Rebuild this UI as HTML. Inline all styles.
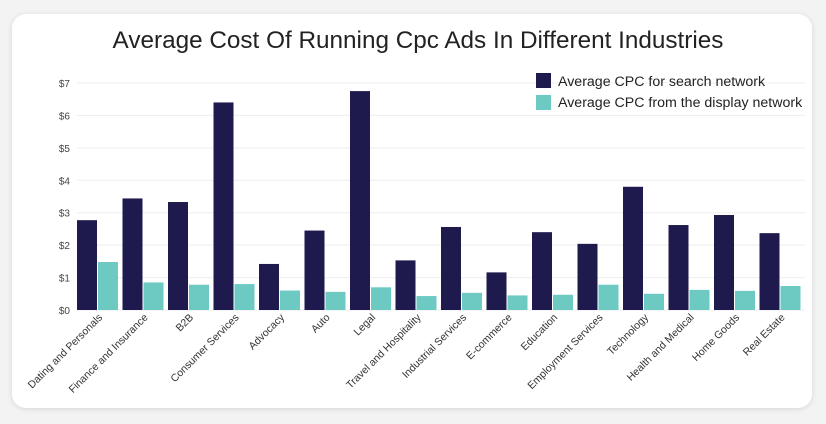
<!DOCTYPE html>
<html><head><meta charset="utf-8"><style>
body{margin:0;background:#f3f3f3;width:826px;height:424px;overflow:hidden;font-family:"Liberation Sans",sans-serif}
#card{position:absolute;left:12px;top:14px;width:800px;height:394px;background:#fff;border-radius:14px;box-shadow:0 1px 6px rgba(0,0,0,.12)}
</style></head><body>
<div id="card"></div>
<svg id="chart" width="826" height="424" style="position:absolute;left:0;top:0">
<text x="418" y="48" text-anchor="middle" font-size="24.3" fill="#222">Average Cost Of Running Cpc Ads In Different Industries</text>
<g id="grid"></g><g id="bars"></g><g id="labels"></g>
<g>
<rect x="536" y="73" width="15" height="15" fill="#1f1a4d"/>
<text x="558" y="86" font-size="14.2" fill="#222">Average CPC for search network</text>
<rect x="536" y="95" width="15" height="15" fill="#6ccac3"/>
<text x="558" y="107" font-size="14.2" fill="#222">Average CPC from the display network</text>
</g>
</svg>
<script>
const categories=["Dating and Personals","Finance and Insurance","B2B","Consumer Services","Advocacy","Auto","Legal","Travel and Hospitality","Industrial Services","E-commerce","Education","Employment Services","Technology","Health and Medical","Home Goods","Real Estate"];
const searchCPC=[2.77,3.44,3.33,6.4,1.42,2.45,6.75,1.53,2.56,1.16,2.4,2.04,3.8,2.62,2.93,2.37];
const displayCPC=[1.48,0.85,0.78,0.8,0.6,0.56,0.7,0.43,0.53,0.45,0.47,0.78,0.5,0.62,0.59,0.74];
const yTicks=[0,1,2,3,4,5,6,7];
const NS="http://www.w3.org/2000/svg";
const x0=77,x1=805,yBase=310,yTop=83,yMax=7;
const y=v=>yBase-(v/yMax)*(yBase-yTop);
const gw=(x1-x0)/categories.length;
const bw=20;
function mk(t,a,p){const e=document.createElementNS(NS,t);for(const k in a)e.setAttribute(k,a[k]);p.appendChild(e);return e;}
const grid=document.getElementById('grid'),bars=document.getElementById('bars'),labels=document.getElementById('labels');
yTicks.forEach(t=>{
 const l=mk('line',{x1:x0,x2:x1,y1:y(t),y2:y(t),stroke:'#eeeeee','stroke-width':1},grid);
 
 
 const tx=mk('text',{x:70,y:y(t)+4,'text-anchor':'end','font-size':10,fill:'#444'},grid);
 tx.textContent='$'+t;
 
 
});
categories.forEach((c,i)=>{
 const gx=x0+i*gw;
 const b1=mk('rect',{x:gx,y:y(searchCPC[i]),width:bw,height:yBase-y(searchCPC[i]),fill:'#1f1a4d'},bars);
 
 
 const b2=mk('rect',{x:gx+bw+1,y:y(displayCPC[i]),width:bw,height:yBase-y(displayCPC[i]),fill:'#6ccac3'},bars);
 
 
 const cx=gx+bw+6;
 const t=mk('text',{x:cx,y:318,'text-anchor':'end','font-size':10.5,fill:'#333',transform:`rotate(-45 ${cx} 318)`},labels);
 t.textContent=c;
 
 
});
</script>
</body></html>
